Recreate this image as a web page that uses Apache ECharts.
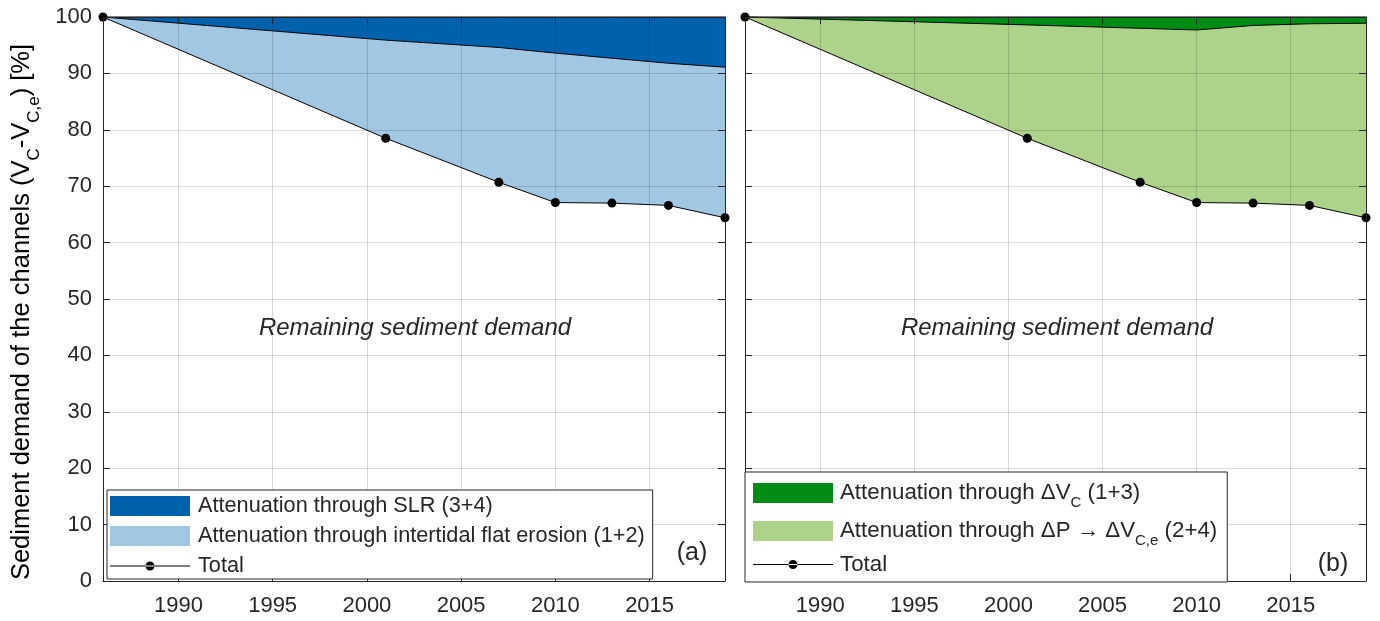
<!DOCTYPE html>
<html><head><meta charset="utf-8">
<script src="https://cdn.jsdelivr.net/npm/echarts@6/dist/echarts.min.js"></script>
<style>html,body{margin:0;padding:0;background:#fff}#c{width:1380px;height:621px}</style>
</head><body><div id="c"></div>
<script>
// ---- data ----
const years = [1986, 2001, 2007, 2010, 2013, 2016, 2019];
const total = [100, 78.5, 70.7, 67.1, 67.0, 66.6, 64.4];
const slrBoundary = [100, 95.9, 94.6, 93.6, 92.7, 91.8, 91.1];   // top of intertidal-erosion band (a)
const dvcBoundary = [100, 98.6, 98.0, 97.7, 98.5, 98.8, 98.9];   // top of ΔP→ΔVc,e band (b)
const topLine = [100, 100, 100, 100, 100, 100, 100];
const xTickLabels = [1990, 1995, 2000, 2005, 2010, 2015];
const yTickLabels = [0, 10, 20, 30, 40, 50, 60, 70, 80, 90, 100];

const NAME_SLR = 'Attenuation through SLR (3+4)';
const NAME_IF = 'Attenuation through intertidal flat erosion (1+2)';
const NAME_DVC = 'Attenuation through ΔVc (1+3)';
const NAME_DP = 'Attenuation through ΔP → ΔVc,e (2+4)';
const NAME_TOT = 'Total';

const FONT = "'Liberation Sans', Arial, Helvetica, sans-serif";
const INK = '#262626';
const GRIDC = 'rgba(0,0,0,0.14)';
const C_DARKBLUE = '#0062AD', C_LIGHTBLUE = '#A1C7E2', C_DARKGREEN = '#008C15', C_LIGHTGREEN = '#ADD38A';

const xStep = xTickLabels[1] - xTickLabels[0];
const yStep = yTickLabels[1] - yTickLabels[0];
const pts = arr => years.map((y, i) => [y, arr[i]]);

function xAx(gi, pos) {
  return {
    type: 'value', gridIndex: gi, position: pos, z: 6,
    min: years[0], max: years[years.length - 1], minInterval: xStep, maxInterval: xStep,
    axisLine: { show: true, onZero: false, lineStyle: { color: INK, width: 1 } },
    axisTick: { show: true, inside: true, length: 7, lineStyle: { color: INK, width: 1 } },
    axisLabel: { show: pos === 'bottom', showMinLabel: false, showMaxLabel: false,
      fontSize: 22, color: INK, fontFamily: FONT, margin: 14, formatter: v => String(v) },
    splitLine: { show: false }
  };
}
function yAx(gi, pos, labels) {
  return {
    type: 'value', gridIndex: gi, position: pos, z: 6,
    min: yTickLabels[0], max: yTickLabels[yTickLabels.length - 1], interval: yStep,
    axisLine: { show: true, onZero: false, lineStyle: { color: INK, width: 1 } },
    axisTick: { show: true, inside: true, length: 7, lineStyle: { color: INK, width: 1 } },
    axisLabel: { show: labels, fontSize: 22, color: INK, fontFamily: FONT, margin: 11 },
    splitLine: { show: false }
  };
}
function area(name, xi, yi, arr, color) {
  return { name, type: 'line', xAxisIndex: xi, yAxisIndex: yi, data: pts(arr), z: 2,
    symbol: 'none', clip: false, silent: true,
    lineStyle: { color: '#000', width: 1 },
    itemStyle: { color },
    areaStyle: { color, opacity: 1 } };
}
// white fill under the total curve (below the grid lines)
function coverSeries(xi, yi) {
  return { name: 'remaining', type: 'line', xAxisIndex: xi, yAxisIndex: yi, data: pts(total), z: 2,
    symbol: 'none', clip: false, silent: true,
    lineStyle: { width: 0, opacity: 0 },
    areaStyle: { color: '#fff', opacity: 1 } };
}
// grid lines drawn over the filled bands, at the tick values
function gridSeries(xi, yi) {
  return { name: 'grid', type: 'line', xAxisIndex: xi, yAxisIndex: yi, data: pts(total), z: 3,
    symbol: 'none', silent: true, lineStyle: { opacity: 0 },
    markLine: { silent: true, symbol: ['none', 'none'], label: { show: false }, animation: false,
      lineStyle: { color: GRIDC, type: 'solid', width: 1 },
      emphasis: { disabled: true },
      data: xTickLabels.map(v => ({ xAxis: v })).concat(yTickLabels.slice(1, -1).map(v => ({ yAxis: v }))) } };
}
function totalSeries(xi, yi) {
  return { name: NAME_TOT, type: 'line', xAxisIndex: xi, yAxisIndex: yi, data: pts(total), z: 4,
    symbol: 'circle', symbolSize: 9, clip: false, silent: true,
    lineStyle: { color: '#000', width: 1 },
    itemStyle: { color: '#000' } };
}

const totalIcon = 'path://M0,8.5H80V9.5H0Z M35.5,9A4.5,4.5 0 1,0 44.5,9A4.5,4.5 0 1,0 35.5,9Z';
const LFS = 21.7;
const RFS = 22.3;
const legendRich = {
  [NAME_DVC]: '{n|Attenuation through ΔV}{s|C}{n| (1+3)}',
  [NAME_DP]: '{n|Attenuation through ΔP → ΔV}{s|C,e}{n| (2+4)}',
  [NAME_TOT]: '{n|Total}{h| }'
};

const chart = echarts.init(document.getElementById('c'), null, { renderer: 'canvas' });
chart.setOption({
  animation: false,
  backgroundColor: '#fff',
  grid: [
    { left: 103, top: 17, width: 622, height: 564 },
    { left: 745, top: 17, width: 621, height: 564 }
  ],
  xAxis: [xAx(0, 'bottom'), xAx(0, 'top'), xAx(1, 'bottom'), xAx(1, 'top')],
  yAxis: [yAx(0, 'left', true), yAx(0, 'right', false), yAx(1, 'left', false), yAx(1, 'right', false)],
  legend: [
    {
      left: 107, top: 490, orient: 'vertical', z: 10, selectedMode: false,
      backgroundColor: '#fff', borderColor: INK, borderWidth: 1, borderRadius: 0,
      padding: [4, 8, 1, 3], itemGap: 6, itemWidth: 80, itemHeight: 20,
      textStyle: { fontSize: LFS, lineHeight: 24, color: INK, fontFamily: FONT, padding: [0, 0, 0, 3] },
      data: [
        { name: NAME_SLR, icon: 'rect', itemStyle: { color: C_DARKBLUE } },
        { name: NAME_IF, icon: 'rect', itemStyle: { color: C_LIGHTBLUE } },
        { name: NAME_TOT, icon: totalIcon, itemStyle: { color: '#000' } }
      ]
    },
    {
      left: 745, top: 472, orient: 'vertical', z: 10, selectedMode: false,
      backgroundColor: '#fff', borderColor: INK, borderWidth: 1, borderRadius: 0,
      padding: [2, 10, 3, 8], itemGap: 0, itemWidth: 80, itemHeight: 20,
      formatter: name => legendRich[name] || name,
      textStyle: { fontSize: RFS, color: INK, fontFamily: FONT, padding: [0, 0, 0, 2],
        rich: {
          n: { fontSize: RFS, fontFamily: FONT, color: INK },
          s: { fontSize: 15, lineHeight: 10, padding: [21.5, 0, 1.5, 0], fontFamily: FONT, color: INK },
          h: { fontSize: 15, lineHeight: 10, padding: [7, 0, 7, 0], fontFamily: FONT, color: INK }
        } },
      data: [
        { name: NAME_DVC, icon: 'rect', itemStyle: { color: C_DARKGREEN } },
        { name: NAME_DP, icon: 'rect', itemStyle: { color: C_LIGHTGREEN } },
        { name: NAME_TOT, icon: totalIcon, itemStyle: { color: '#000' } }
      ]
    }
  ],
  series: [
    area(NAME_SLR, 0, 0, topLine, C_DARKBLUE),
    area(NAME_IF, 0, 0, slrBoundary, C_LIGHTBLUE),
    coverSeries(0, 0),
    gridSeries(0, 0),
    totalSeries(0, 0),
    area(NAME_DVC, 2, 2, topLine, C_DARKGREEN),
    area(NAME_DP, 2, 2, dvcBoundary, C_LIGHTGREEN),
    coverSeries(2, 2),
    gridSeries(2, 2),
    totalSeries(2, 2)
  ],
  graphic: [
    { type: 'text', x: 22, y: 312, rotation: Math.PI / 2, z: 20,
      style: { text: '{n|Sediment demand of the channels (V}{s|C}{n|-V}{s|C,e}{n|) [%]}',
        align: 'center', verticalAlign: 'middle',
        rich: { n: { fontSize: 25.5, lineHeight: 30, fontFamily: FONT, color: INK },
                s: { fontSize: 17, lineHeight: 10, padding: [24, 0, 0, 0], fontFamily: FONT, color: INK } } } },
    { type: 'text', x: 415, y: 328, z: 20,
      style: { text: 'Remaining sediment demand', font: 'italic 24px ' + FONT, fill: INK, align: 'center', verticalAlign: 'middle' } },
    { type: 'text', x: 1057, y: 328, z: 20,
      style: { text: 'Remaining sediment demand', font: 'italic 24px ' + FONT, fill: INK, align: 'center', verticalAlign: 'middle' } },
    { type: 'text', x: 692, y: 553, z: 20,
      style: { text: '(a)', font: '25px ' + FONT, fill: INK, align: 'center', verticalAlign: 'middle' } },
    { type: 'text', x: 1333, y: 564, z: 20,
      style: { text: '(b)', font: '25px ' + FONT, fill: INK, align: 'center', verticalAlign: 'middle' } }
  ]
});
</script></body></html>
